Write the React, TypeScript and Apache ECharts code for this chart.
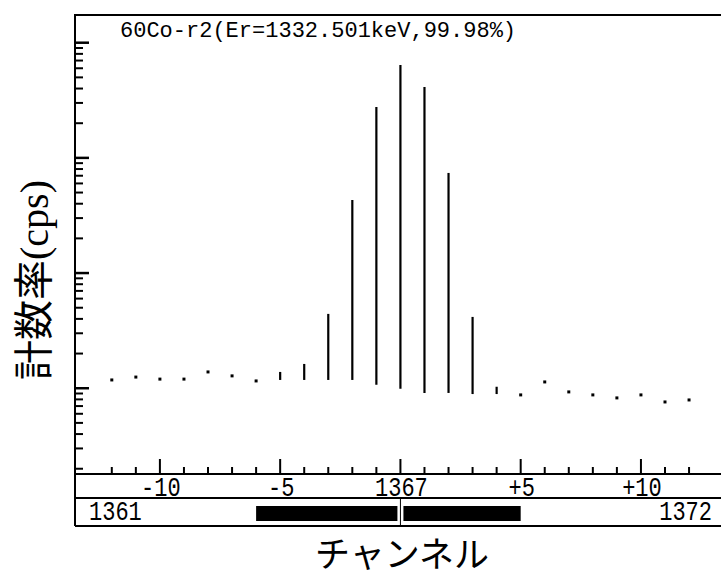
import React, { useEffect, useRef } from "react";
import * as echarts from "echarts";

// ---- data ----
const centerChannel = 1367;
const channelOffsets = [-12, -11, -10, -9, -8, -7, -6, -5, -4, -3, -2, -1, 0, 1, 2, 3, 4, 5, 6, 7, 8, 9, 10, 11, 12];
// count rate at each channel (top of the drop line)
const countRate = [1.18, 1.25, 1.2, 1.2, 1.385, 1.28, 1.157, 1.385, 1.625, 4.42, 43.1, 276.6, 640, 412, 74, 4.16, 1.03, 0.875, 1.134, 0.929, 0.875, 0.824, 0.875, 0.76, 0.791];
// background level under each channel (bottom of the drop line)
const baseRate = [1.18, 1.25, 1.2, 1.2, 1.385, 1.28, 1.157, 1.18, 1.18, 1.18, 1.18, 1.07, 0.99, 0.91, 0.91, 0.89, 0.89, 0.875, 1.134, 0.929, 0.875, 0.824, 0.875, 0.76, 0.791];

const xTickValues = [-12, -11, -10, -9, -8, -7, -6, -5, -4, -3, -2, -1, 0, 1, 2, 3, 4, 5, 6, 7, 8, 9, 10, 11, 12];
const xMajorTicks = [-10, -5, 0, 5, 10];
const xTickLabels = ["-10", "-5", String(centerChannel), "+5", "+10"];

const yDecades = [0.1, 1, 10, 100, 1000];
const yMinorSteps = [2, 3, 4, 5, 6, 7, 8, 9];

const roiStartOffset = -6;
const roiEndOffset = 5;

const titleText = "60Co-r2(Er=1332.501keV,99.98%)";
const yAxisName = "計数率(cps)";
const xAxisName = "チャンネル";

// ---- axis extents ----
const X_MIN = -13.53;
const X_MAX = 14.16;
const Y_MIN = 0.18;
const Y_MAX = 1740;

const MONO = "'Liberation Mono', 'DejaVu Sans Mono', monospace";

export default function App() {
  const ref = useRef<HTMLDivElement>(null);

  useEffect(() => {
    if (!ref.current) return;
    const chart = echarts.init(ref.current, undefined, { renderer: "svg" });

    const yTicks: { v: number; major: boolean }[] = [];
    yDecades.forEach((d) => {
      if (d >= Y_MIN && d <= Y_MAX) yTicks.push({ v: d, major: true });
      yMinorSteps.forEach((s) => {
        const v = d * s;
        if (v >= Y_MIN && v <= Y_MAX) yTicks.push({ v, major: false });
      });
    });

    const black = "#000";

    const option: any = {
      animation: false,
      backgroundColor: "#fff",
      grid: {
        left: 75,
        right: 0,
        top: 15,
        bottom: 105,
        show: true,
        borderColor: black,
        borderWidth: 2,
        backgroundColor: "transparent",
      },
      xAxis: {
        type: "value",
        min: X_MIN,
        max: X_MAX,
        axisLine: { show: false },
        axisTick: { show: false },
        axisLabel: { show: false },
        splitLine: { show: false },
      },
      yAxis: {
        type: "log",
        logBase: 10,
        min: Y_MIN,
        max: Y_MAX,
        axisLine: { show: false },
        axisTick: { show: false },
        axisLabel: { show: false },
        splitLine: { show: false },
      },
      graphic: [
        {
          type: "text",
          x: 120,
          y: 31,
          style: {
            text: titleText,
            font: `22px ${MONO}`,
            fill: black,
            textAlign: "left",
            textVerticalAlign: "middle",
            align: "left",
            verticalAlign: "middle",
          },
        },
        {
          type: "text",
          x: 34,
          y: 280,
          rotation: Math.PI / 2,
          style: {
            text: yAxisName,
            font: "40px 'Liberation Serif', 'Noto Sans CJK JP', serif",
            fill: black,
            textAlign: "center",
            textVerticalAlign: "middle",
            align: "center",
            verticalAlign: "middle",
          },
        },
        {
          type: "text",
          x: 402,
          y: 551,
          style: {
            text: xAxisName,
            font: "35px 'Noto Sans CJK JP', serif",
            fill: black,
            textAlign: "center",
            textVerticalAlign: "middle",
            align: "center",
            verticalAlign: "middle",
          },
        },
      ],
      series: [
        // drop lines / dots per channel
        {
          type: "custom",
          data: channelOffsets.map((c, i) => [c, baseRate[i], countRate[i]]),
          renderItem: (params: any, api: any) => {
            const x = api.value(0);
            const lo = api.coord([x, api.value(1)]);
            const hi = api.coord([x, api.value(2)]);
            if (lo[1] - hi[1] < 3) {
              return {
                type: "rect",
                shape: { x: hi[0] - 1.5, y: hi[1] - 1.5, width: 3, height: 3 },
                style: { fill: black },
              };
            }
            return {
              type: "line",
              shape: { x1: lo[0], y1: lo[1], x2: hi[0], y2: hi[1] },
              style: { stroke: black, lineWidth: 2.2 },
            };
          },
        },
        // x ticks
        {
          type: "custom",
          data: xTickValues.map((v) => [v, Y_MIN]),
          renderItem: (params: any, api: any) => {
            const v = api.value(0);
            const p = api.coord([v, Y_MIN]);
            const len = xMajorTicks.indexOf(v) >= 0 ? 15 : 7;
            return {
              type: "line",
              shape: { x1: p[0], y1: p[1], x2: p[0], y2: p[1] - len },
              style: { stroke: black, lineWidth: 2 },
            };
          },
        },
        // y ticks
        {
          type: "custom",
          data: yTicks.map((t) => [X_MIN, t.v]),
          renderItem: (params: any, api: any) => {
            const t = yTicks[params.dataIndex];
            const p = api.coord([X_MIN, t.v]);
            const len = t.major ? 14 : 8;
            return {
              type: "line",
              shape: { x1: p[0], y1: p[1], x2: p[0] + len, y2: p[1] },
              style: { stroke: black, lineWidth: t.major ? 2.5 : 2 },
            };
          },
        },
        // x tick labels (strip 1)
        {
          type: "custom",
          clip: false,
          data: xMajorTicks.map((v) => [v, Y_MIN]),
          renderItem: (params: any, api: any) => {
            const p = api.coord([api.value(0), Y_MIN]);
            return {
              type: "text",
              x: p[0] + 1,
              y: p[1] + 14,
              scaleY: 1.25,
              style: {
                text: xTickLabels[params.dataIndex],
                font: `22px ${MONO}`,
                fill: black,
                textAlign: "center",
                textVerticalAlign: "middle",
                align: "center",
                verticalAlign: "middle",
              },
            };
          },
        },
        // bottom strips with ROI
        {
          type: "custom",
          clip: false,
          data: [[roiStartOffset, Y_MIN]],
          renderItem: (params: any, api: any) => {
            const origin = api.coord([X_MIN, Y_MIN]);
            const left = origin[0];
            const base = origin[1];
            const right = 760;
            const s1 = base + 24;
            const s2 = base + 52;
            const xs = api.coord([roiStartOffset, Y_MIN])[0];
            const xe = api.coord([roiEndOffset, Y_MIN])[0];
            const xc = api.coord([0, Y_MIN])[0];
            const lineStyle = { stroke: black, lineWidth: 2 };
            const txt = (text: string, x: number, align: string) => ({
              type: "text",
              x,
              y: s1 + 14,
              scaleY: 1.25,
              style: {
                text,
                font: `22px ${MONO}`,
                fill: black,
                textAlign: align,
                textVerticalAlign: "middle",
                align,
                verticalAlign: "middle",
              },
            });
            return {
              type: "group",
              children: [
                { type: "line", shape: { x1: left, y1: base, x2: left, y2: s2 }, style: lineStyle },
                { type: "line", shape: { x1: left, y1: s1, x2: right, y2: s1 }, style: lineStyle },
                { type: "line", shape: { x1: left, y1: s2, x2: right, y2: s2 }, style: lineStyle },
                { type: "rect", shape: { x: xs, y: s1 + 8, width: xc - 3 - xs, height: 15 }, style: { fill: black } },
                { type: "rect", shape: { x: xc + 3, y: s1 + 8, width: xe - xc - 3, height: 15 }, style: { fill: black } },
                { type: "line", shape: { x1: xc, y1: s1, x2: xc, y2: s2 }, style: { stroke: black, lineWidth: 1 } },
                txt(String(centerChannel + roiStartOffset), left + 14, "left"),
                txt(String(centerChannel + roiEndOffset), 712, "right"),
              ],
            };
          },
        },
      ],
    };

    chart.setOption(option);
    return () => chart.dispose();
  }, []);

  return (
    <div
      style={{ position: "fixed", left: 0, top: 0, width: 721, height: 579, overflow: "hidden", background: "#fff" }}
    >
      <div ref={ref} style={{ width: 741, height: 579 }} />
    </div>
  );
}
